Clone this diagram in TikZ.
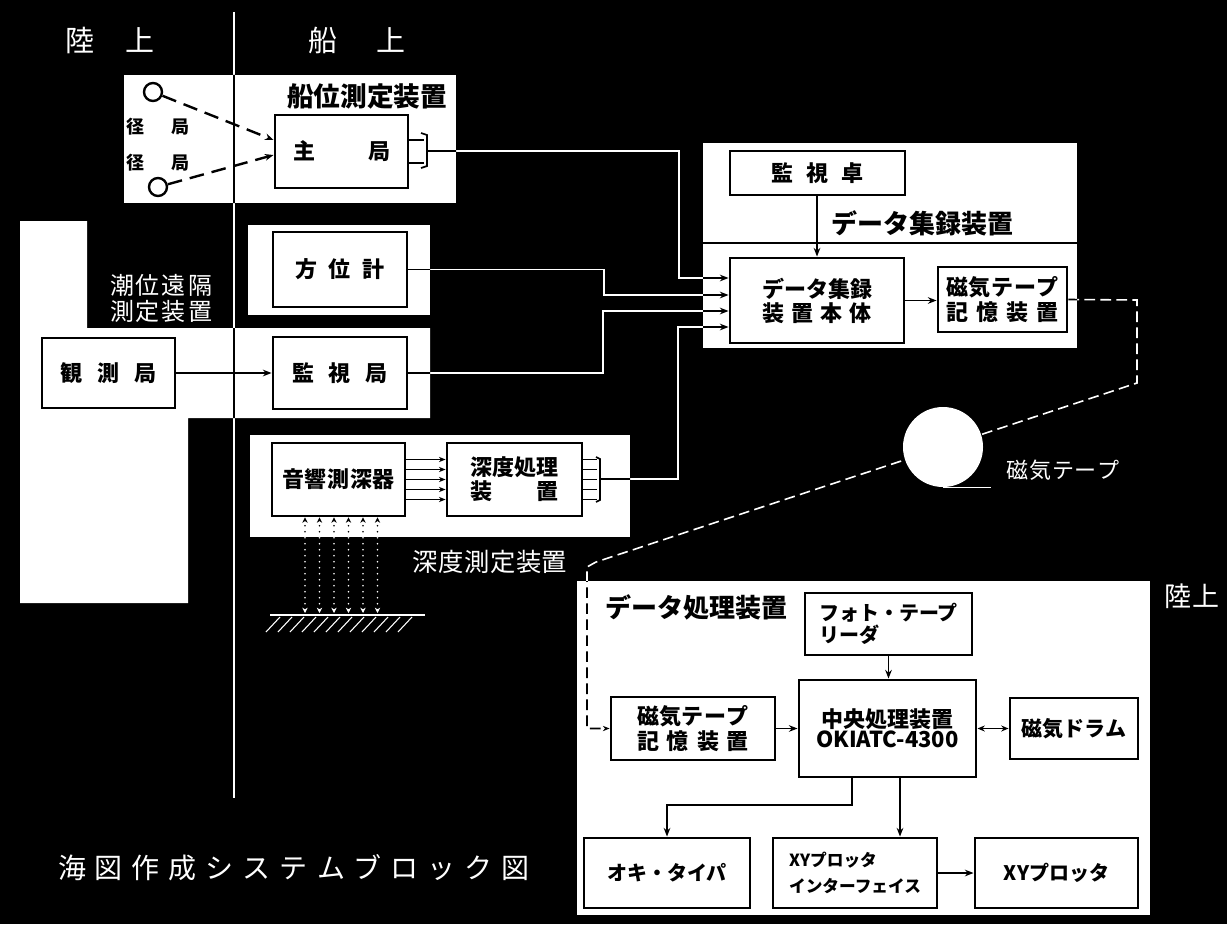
\documentclass[tikz,border=0pt]{standalone}
\usepackage{fontspec}
\setmainfont{Noto Sans CJK JP}
\usetikzlibrary{arrows.meta,calc}
\newdimen\pxu \pxu=0.75pt
\newdimen\lsd
\makeatletter
\def\ls#1#2{{\lsd=#1\pxu\relax\ls@A#2\relax}}
\def\ls@A#1{#1\ls@B}
\def\ls@B#1{\ifx\relax#1\else\kern\lsd#1\expandafter\ls@B\fi}
\makeatother
\newcommand\fs[2]{\fontsize{#1pt}{#2pt}\selectfont}
\newcommand\bx[7][]{\node[box,#1,minimum width={(#5-#3)*0.75pt},minimum height={(#6-#4)*0.75pt}] (#2) at ({(#3+#5)/2},{(#4+#6)/2}) {#7};}
\newcommand\conns{%
  \draw[conn] (top) -- (bot);
  % position stations
  \draw[dashline] (c1) -- ($(shukyoku.west)+(0,-11.5)$);
  \draw[dashline] (c2) -- ($(shukyoku.west)+(0,3.5)$);
  \draw[conn] (shukyoku.east |- 0,140) -- (424,140);
  \draw[conn] (shukyoku.east |- 0,163) -- (424,163);
  \draw[conn,line width=1.3pt] (421,133) -- (427,135) -- (427,166) -- (421,168);
  \draw[arr] (br1) -- (k1) -- (k2) -- (k2 -| honntai.west);
  \draw[arr] (houikei.east) -| (k3) -- (k3 -| honntai.west);
  \draw[arr] (kanshi.east) -| (k4) -- (k4 -| honntai.west);
  \draw[arr] (br2) -| (k5) -- (k5 -| honntai.west);
  \draw[arr] (kansoku.east) -- (kanshi.west);
  % depth
  \foreach \d in {-20,-10,0,10,20} {
    \draw[sarr] ($(onkyo.east)+(0,\d)$) -- ($(shindo.west)+(0,\d)$);
    \draw[conn] ($(shindo.east)+(0,\d)$) -- ++(14,0);
  }
  \draw[conn,line width=1.3pt] (596,457) -- (600,459) -- (600,500) -- (596,502);
  \foreach \xx in {305,319.5,334,348.5,363,377.5} {
    \coordinate (g) at (\xx,613);
    \draw[dotarr] (g) -- (onkyo.south -| g);
  }
  \draw[conn] (gl) -- (gr);
  \foreach \i in {0,...,11} \draw[line width=0.8pt] ({280+12*\i},617) -- ++(-14,15);
  % data logger
  \draw[arr] (kanshitaku.south -| k8) -- (honntai.north -| k8);
  \draw[arr] (honntai.east) -- (honntai.east -| mtape.west);
  \draw[tapedash] (mtape.east) -- (d1) -- (d2) -- (d3) -- (d4) -- (d4 |- mtape2.west) -- (mtape2.west);
  \draw[conn] (tape.south) -- ++(48,0);
  % data processing
  \draw[arr] (photo.south) -- (photo.south |- cpu.north);
  \draw[arr] (mtape2.east) -- (mtape2.east -| cpu.west);
  \draw[darr] (cpu.east |- drum.west) -- (drum.west);
  \draw[arr] (cpu.south -| k6) -- (k6) -| (oki.north);
  \draw[arr] (cpu.south -| k7) -- (xyif.north -| k7);
  \draw[arr] (xyif.east) -- (xy.west);
}
\begin{document}
\begin{tikzpicture}[x=0.75pt,y=-0.75pt,
  box/.style={draw=black,line width=2.2pt,fill=white,inner sep=0pt,align=center,text=black,font=\bfseries},
  wlab/.style={text=white,inner sep=0pt,align=center},
  blab/.style={text=black,inner sep=0pt,align=center},
  conn/.style={line width=1.1pt},
  arr/.style={conn,-{Stealth[length=6.5pt,width=5pt]}},
  sarr/.style={conn,-{Stealth[length=5pt,width=4pt]}},
  darr/.style={conn,{Stealth[length=5.5pt,width=4.5pt]}-{Stealth[length=5.5pt,width=4.5pt]}},
  dashline/.style={line width=1.8pt,dash pattern=on 11pt off 6pt,-{Stealth[length=6.5pt,width=5pt]}},
  tapedash/.style={line width=1.2pt,dash pattern=on 8pt off 4pt,-{Stealth[length=5pt,width=4pt]}},
  dotarr/.style={line width=1.4pt,line cap=round,dash pattern=on 0pt off 4.5pt,{Stealth[length=4pt,width=4pt]}-{Stealth[length=4pt,width=4pt]}},
  circ/.style={circle,draw=black,line width=1.8pt,fill=white,minimum size=13.5pt,inner sep=0pt},
  tapec/.style={circle,fill=white,minimum size=60pt,inner sep=0pt}]
\useasboundingbox (0,0) rectangle (1227,924);
\fill[black] (0,0) rectangle (1227,924);
% panels
\fill[white] (124,75) rectangle (456,203);
\fill[white] (248,225) rectangle (430,315);
\fill[white] (20,221) -- (87,221) -- (87,328) -- (430,328) -- (430,418) -- (188,418) -- (188,603) -- (20,603) -- cycle;
\fill[white] (250,435) rectangle (630,537);
\fill[white] (703,143) rectangle (1077,348);
\fill[white] (577,581) rectangle (1150,915);
\draw[line width=1.5pt] (703,243) -- (1077,243);
% coordinates
\coordinate (top) at (234,12);
\coordinate (bot) at (234,798);
\coordinate (k1) at (679,151);
\coordinate (k2) at (679,278);
\coordinate (k3) at (604,295);
\coordinate (k4) at (603,311);
\coordinate (k5) at (678,327);
\coordinate (k6) at (852,805);
\coordinate (k7) at (900,0);
\coordinate (k8) at (817,0);
\coordinate (br1) at (427,151);
\coordinate (br2) at (600,479);
\coordinate (d1) at (1137,300);
\coordinate (d2) at (1137,383);
\coordinate (d3) at (596,562);
\coordinate (d4) at (587,567);
\coordinate (gl) at (270,615);
\coordinate (gr) at (425,615);
% labels
\node[wlab,font={\fs{21.75}{22}}] (rikuT) at (110,40) {\ls{31}{陸上}};
\node[wlab,font={\fs{21.75}{22}}] (senT) at (357,40) {\ls{39}{船上}};
\node[blab,font={\bfseries\fs{20}{22}}] (senniL) at (367,96) {\ls{0}{船位測定装置}};
\node[blab,font={\bfseries\fs{13.5}{14}}] (kei1) at (158,127) {\ls{27}{径局}};
\node[blab,font={\bfseries\fs{13.5}{14}}] (kei2) at (158,163) {\ls{27}{径局}};
\node[circ] (c1) at (153,92) {};
\node[circ] (c2) at (158,187) {};
\node[wlab,font={\fs{18}{19.5}}] (chouiL) at (161,298) {\ls{2}{潮位遠隔}\\\ls{2}{測定装置}};
\node[wlab,font={\fs{19}{20}}] (shindoL) at (490,562) {\ls{0.5}{深度測定装置}};
\node[blab,font={\bfseries\fs{19.5}{20}}] (shuurokuL) at (922,223) {\ls{0}{データ集録装置}};
\node[wlab,font={\fs{16.5}{17}}] (tapeL) at (1063,470) {\ls{0.6}{磁気テープ}};
\node[blab,font={\bfseries\fs{19.5}{20}}] (shoriL) at (696,607) {\ls{0}{データ処理装置}};
\node[wlab,font={\fs{20.25}{21}}] (rikuB) at (1192,596) {\ls{1.5}{陸上}};
\node[wlab,font={\fs{21}{22}}] (title) at (294,868) {\ls{9}{海図作成システムブロック図}};
\node[tapec] (tape) at (943,447) {};
% boxes
\bx[font={\bfseries\fs{16.5}{18}}]{shukyoku}{275}{115}{408}{188}{\ls{53}{主局}}
\bx[font={\bfseries\fs{16.5}{18}}]{houikei}{273}{232}{407}{307}{\ls{12}{方位計}}
\bx[font={\bfseries\fs{16.5}{18}}]{kansoku}{42}{338}{175}{408}{\ls{15}{観測局}}
\bx[font={\bfseries\fs{16.5}{18}}]{kanshi}{273}{337}{407}{409}{\ls{15}{監視局}}
\bx[font={\bfseries\fs{16.5}{18}}]{onkyo}{272}{443}{405}{516}{\ls{0.6}{音響測深器}}
\bx[font={\bfseries\fs{16.5}{18}}]{shindo}{447}{443}{582}{516}{\ls{0}{深度処理}\\\ls{44}{装置}}
\bx[font={\bfseries\fs{16.5}{18}}]{kanshitaku}{730}{151}{905}{195}{\ls{13}{監視卓}}
\bx[font={\bfseries\fs{16.5}{18}}]{honntai}{730}{258}{904}{343}{\ls{0}{データ集録}\\\ls{7}{装置本体}}
\bx[font={\bfseries\fs{16.5}{18.5}}]{mtape}{938}{267}{1067}{332}{\ls{0.5}{磁気テープ}\\\ls{8}{記憶装置}}
\bx[font={\bfseries\fs{15}{17}},align=left]{photo}{805}{593}{972}{655}{フォト・テープ\\リーダ}
\bx[font={\bfseries\fs{16.5}{15}}]{cpu}{799}{680}{976}{777}{\ls{0}{中央処理装置}\\OKIATC-4300}
\bx[font={\bfseries\fs{16.5}{18.5}}]{mtape2}{611}{697}{775}{760}{\ls{0.5}{磁気テープ}\\\ls{8}{記憶装置}}
\bx[font={\bfseries\fs{15.75}{18}}]{drum}{1010}{698}{1138}{759}{\ls{0}{磁気ドラム}}
\bx[font={\bfseries\fs{15}{18}}]{oki}{584}{838}{750}{908}{オキ・タイパ}
\bx[font={\bfseries\fs{12.5}{20}},align=left]{xyif}{773}{838}{937}{908}{XYプロッタ\\インターフェイス}
\bx[font={\bfseries\fs{15}{18}}]{xy}{975}{838}{1138}{908}{XYプロッタ}
% connectors: white on black ground, black on white panels
\begin{scope}[white]
\conns
\end{scope}
\begin{scope}[black]
\clip (124,75) rectangle (456,203) (248,225) rectangle (430,315)
  (20,221) -- (87,221) -- (87,328) -- (430,328) -- (430,418) -- (188,418) -- (188,603) -- (20,603) -- cycle
  (250,435) rectangle (630,537) (703,143) rectangle (1077,348) (577,581) rectangle (1150,915);
\conns
\end{scope}
\end{tikzpicture}
\end{document}
